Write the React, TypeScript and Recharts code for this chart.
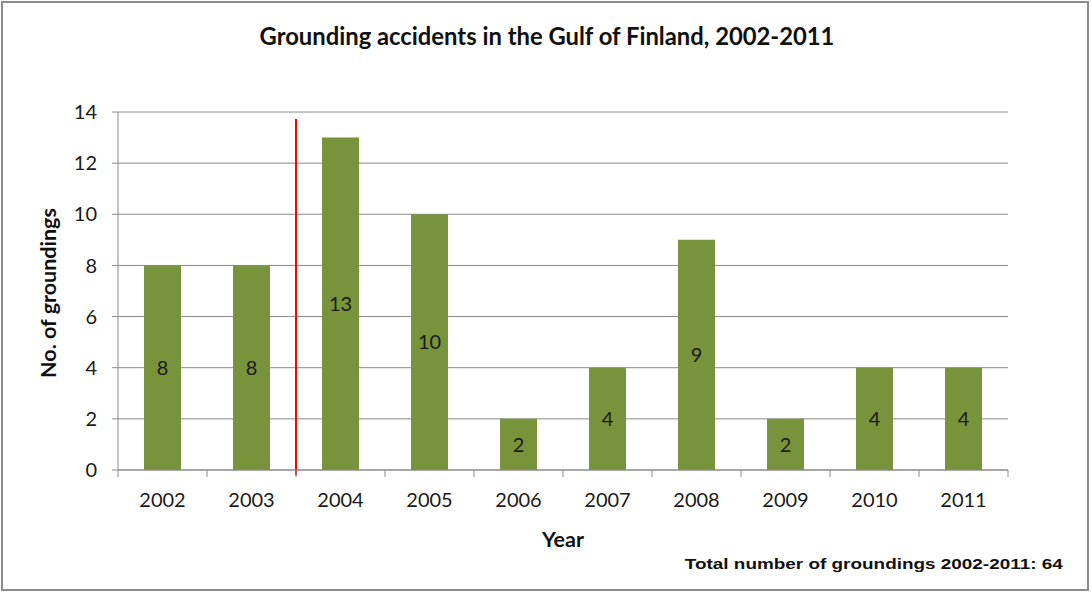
import React from "react";
import { BarChart, Bar, XAxis, YAxis, CartesianGrid, LabelList, ReferenceLine } from "recharts";

const years = ["2002", "2003", "2004", "2005", "2006", "2007", "2008", "2009", "2010", "2011"];
const groundings = [8, 8, 13, 10, 2, 4, 9, 2, 4, 4];
const yTicks = [0, 2, 4, 6, 8, 10, 12, 14];

const data = years.map((y, i) => ({ year: y, value: groundings[i] }));

const AXIS = "#8a8a8a";
const FONT = "Lato, 'Open Sans', sans-serif";

const XTick = (props: any) => {
  const { x, y, payload, index } = props;
  const off = payload.offset || 0;
  return (
    <g>
      <line x1={x - off} x2={x - off} y1={y - 8} y2={y - 1} stroke={AXIS} strokeWidth={1} />
      {index === years.length - 1 && (
        <line x1={x + off} x2={x + off} y1={y - 8} y2={y - 1} stroke={AXIS} strokeWidth={1} />
      )}
      <text x={x} y={y + 29} textAnchor="middle" fontSize={20} fill="#1a1a1a" fontFamily={FONT}>
        {payload.value}
      </text>
    </g>
  );
};

const RedLine = (props: any) => {
  const { x1, y1, x2, y2 } = props;
  return <line x1={x1} x2={x2} y1={y1 + 5} y2={y2 + 7} stroke="#ff0000" strokeWidth={2} />;
};

export default function App() {
  return (
    <div style={{ position: "absolute", left: 0, top: 0, width: 1091, height: 592, background: "#fff", fontFamily: FONT }}>
      <div
        style={{
          position: "absolute",
          left: 1,
          top: 1,
          width: 1088,
          height: 590,
          border: "2px solid #8c8c8c",
          boxSizing: "border-box",
        }}
      />
      <div
        style={{
          position: "absolute",
          left: 0,
          width: 1094,
          top: 22,
          textAlign: "center",
          fontSize: 23.8,
          fontWeight: "bold",
          color: "#111",
        }}
      >
        Grounding accidents in the Gulf of Finland, 2002-2011
      </div>
      <BarChart
        width={1091}
        height={592}
        data={data}
        margin={{ top: 112, left: 58, right: 83, bottom: 92 }}
        barSize={37}
      >
        <CartesianGrid vertical={false} stroke={AXIS} strokeWidth={1} />
        <XAxis
          dataKey="year"
          stroke={AXIS}
          tickLine={false}
          tick={<XTick />}
          height={30}
          interval={0}
        />
        <YAxis
          width={60}
          domain={[0, 14]}
          ticks={yTicks}
          stroke={AXIS}
          tickSize={6}
          tick={{ fontSize: 20, fill: "#1a1a1a", fontFamily: FONT }}
          tickMargin={15}
        />
        <Bar dataKey="value" fill="#77933c" isAnimationActive={false}>
          <LabelList dataKey="value" position="center" fill="#1a1a1a" fontSize={20} fontFamily={FONT} />
        </Bar>
        <ReferenceLine x="2004" position="start" shape={<RedLine />} ifOverflow="visible" />
      </BarChart>
      <div
        style={{
          position: "absolute",
          left: 48,
          top: 293,
          transform: "translate(-50%, -50%) rotate(-90deg)",
          whiteSpace: "nowrap",
          fontSize: 21.5,
          fontWeight: "bold",
          color: "#111",
        }}
      >
        No. of groundings
      </div>
      <div
        style={{
          position: "absolute",
          left: 563,
          top: 539,
          transform: "translate(-50%, -50%)",
          fontSize: 21.5,
          fontWeight: "bold",
          color: "#111",
        }}
      >
        Year
      </div>
      <div
        style={{
          position: "absolute",
          right: 1091 - 1063,
          top: 555,
          fontFamily: "'Liberation Sans', Arial, sans-serif",
          fontSize: 15.5,
          transform: "scaleX(1.22)",
          transformOrigin: "right center",
          fontWeight: "bold",
          color: "#111",
          whiteSpace: "nowrap",
        }}
      >
        Total number of groundings 2002-2011: 64
      </div>
    </div>
  );
}
